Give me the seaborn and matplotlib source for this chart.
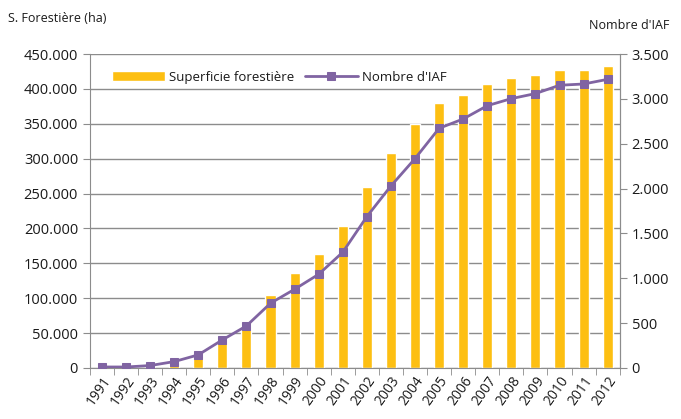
import numpy as np
import pandas as pd
import matplotlib
matplotlib.use('Agg')
import matplotlib.pyplot as plt
import seaborn as sns
from matplotlib.ticker import FuncFormatter

years = [str(y) for y in range(1991, 2013)]
superficie = [0, 0, 1000, 5000, 16000, 42500, 64000, 104000, 135500, 163000,
              204000, 259000, 307500, 349000, 380000, 391500, 407000, 415000,
              420500, 426500, 427000, 432500]
nombre_iaf = [10, 10, 26, 70, 145, 312, 468, 721, 877, 1044,
              1290, 1687, 2029, 2334, 2672, 2776, 2924, 3003, 3059, 3152,
              3166, 3218]

df = pd.DataFrame({'annee': years, 'superficie': superficie, 'iaf': nombre_iaf})

sns.set_style("white")
plt.rcParams['font.family'] = ['Open Sans', 'DejaVu Sans']

bar_color = '#FDBF12'
line_color = '#8064A2'
grid_color = '#8c8c8c'
text_color = '#1a1a1a'

fig = plt.figure(figsize=(6.81, 4.19), dpi=100)
ax = fig.add_axes([0.132, 0.122, 0.778, 0.749])
ax2 = ax.twinx()

sns.barplot(data=df, x='annee', y='superficie', color=bar_color, width=0.42,
            saturation=1, ax=ax, label='Superficie forestière', zorder=2)
sns.lineplot(x=df.index, y=df['iaf'], color=line_color, lw=2, marker='s',
             markersize=6, markeredgecolor=line_color, ax=ax2,
             label="Nombre d'IAF", legend=False)

ax.set_xlim(-0.5, len(years) - 0.5)
ax.set_ylim(0, 450000)
ax2.set_ylim(0, 3500)
ax.set_yticks(np.arange(0, 450001, 50000))
ax2.set_yticks(np.arange(0, 3501, 500))

fmt = FuncFormatter(lambda v, p: f'{int(v):,}'.replace(',', '.'))
ax.yaxis.set_major_formatter(fmt)
ax2.yaxis.set_major_formatter(fmt)

ax.grid(axis='y', color=grid_color, lw=1, zorder=0)
ax.set_axisbelow(True)
ax.set_xlabel('')
ax.set_ylabel('')
ax2.set_ylabel('')

for a in (ax, ax2):
    for s in a.spines.values():
        s.set_color(grid_color)
    a.spines['top'].set_visible(False)
ax2.spines['left'].set_visible(False)
ax2.spines['bottom'].set_visible(False)

ax.set_xticks(range(len(years)))
ax.set_xticklabels(years, rotation=55, ha='right', rotation_mode='anchor')
ax.set_xticks(np.arange(-0.5, len(years), 1), minor=True)
ax.tick_params(axis='x', which='major', length=0, pad=4, labelsize=10, colors=text_color)
ax.tick_params(axis='x', which='minor', length=5, color=grid_color, bottom=True)
ax.tick_params(axis='y', length=5, color=grid_color, labelsize=10.5, colors=text_color, left=True)
ax2.tick_params(axis='y', length=5, color=grid_color, labelsize=10.5, colors=text_color, right=True)
for lab in ax.get_yticklabels() + ax2.get_yticklabels() + ax.get_xticklabels():
    lab.set_color(text_color)

h1, l1 = ax.get_legend_handles_labels()
h2, l2 = ax2.get_legend_handles_labels()
ax.legend(h1 + h2, l1 + l2, loc='upper left', bbox_to_anchor=(0.02, 0.985),
          ncol=2, frameon=False, fontsize=9.5, handlelength=4.0,
          columnspacing=0.8, handletextpad=0.3, labelcolor=text_color)

fig.text(0.012, 0.955, 'S. Forestière (ha)', fontsize=9, color=text_color,
         ha='left', va='center')
fig.text(0.983, 0.938, "Nombre d'IAF", fontsize=9, color=text_color,
         ha='right', va='center')

fig.savefig('out.png', dpi=100)
